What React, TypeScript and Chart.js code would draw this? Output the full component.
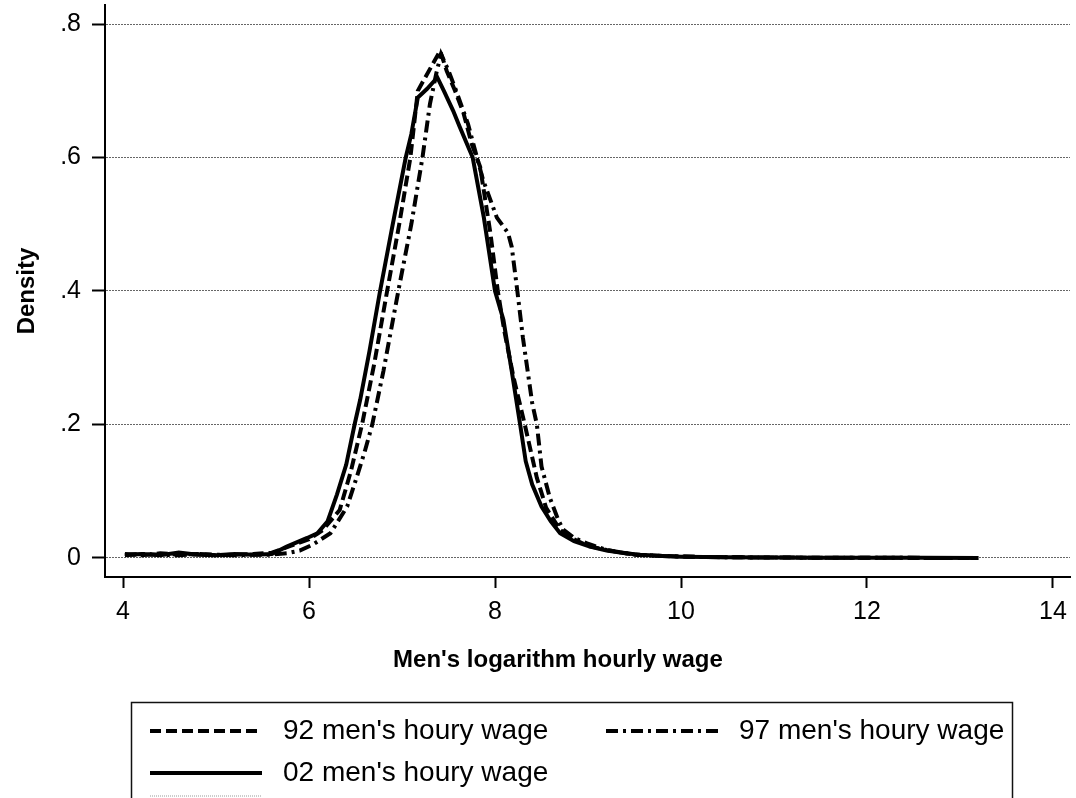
import React, { useEffect, useRef } from "react";
import { Chart, registerables } from "chart.js";
Chart.register(...registerables);

const FONT = 'Arial, "Liberation Sans", sans-serif';

const xTicks = [4, 6, 8, 10, 12, 14];
const yTicks = [0, 0.2, 0.4, 0.6, 0.8];
const xTitle = "Men's logarithm hourly wage";
const yTitle = "Density";
const seriesLabels = ["92 men's houry wage", "97 men's houry wage", "02 men's houry wage", ""];

const x92 = [4.02, 4.2, 4.4, 4.6, 4.8, 5.0, 5.2, 5.4, 5.6, 5.8, 6.0, 6.15, 6.33, 6.45, 6.57, 6.7, 6.84, 6.97, 7.09, 7.17, 7.25, 7.33, 7.41, 7.48, 7.57, 7.66, 7.75, 7.84, 7.95, 8.03, 8.1, 8.2, 8.32, 8.45, 8.55, 8.7, 8.85, 9.0, 9.2, 9.5, 9.8, 10.2, 10.8, 11.5, 12.2, 12.9];
const y92 = [0.006, 0.004, 0.007, 0.005, 0.006, 0.004, 0.005, 0.006, 0.008, 0.018, 0.028, 0.042, 0.072, 0.13, 0.2, 0.29, 0.4, 0.5, 0.6, 0.7, 0.72, 0.74, 0.76, 0.73, 0.7, 0.667, 0.62, 0.586, 0.487, 0.4, 0.34, 0.27, 0.2, 0.12, 0.075, 0.042, 0.028, 0.018, 0.012, 0.005, 0.003, 0.0015, 0.0008, 0.0004, 0.0002, 0.0001];

const x97 = [4.02, 4.2, 4.4, 4.6, 4.8, 5.0, 5.2, 5.4, 5.6, 5.76, 5.9, 6.04, 6.23, 6.41, 6.52, 6.6, 6.68, 6.8, 6.96, 7.1, 7.22, 7.3, 7.37, 7.42, 7.5, 7.59, 7.71, 7.87, 8.02, 8.14, 8.18, 8.24, 8.3, 8.4, 8.45, 8.5, 8.59, 8.68, 8.73, 8.85, 8.99, 9.2, 9.5, 9.8, 10.2, 10.8, 11.5, 12.2, 13.1];
const y97 = [0.004, 0.006, 0.005, 0.004, 0.006, 0.005, 0.004, 0.005, 0.005, 0.007, 0.011, 0.02, 0.037, 0.077, 0.124, 0.16, 0.2, 0.28, 0.4, 0.5, 0.6, 0.68, 0.727, 0.755, 0.73, 0.697, 0.65, 0.567, 0.51, 0.487, 0.466, 0.4, 0.33, 0.232, 0.2, 0.137, 0.09, 0.057, 0.043, 0.03, 0.022, 0.012, 0.005, 0.003, 0.0015, 0.0008, 0.0004, 0.0002, 0.0001];

const x02 = [4.02, 4.2, 4.4, 4.6, 4.8, 5.0, 5.2, 5.4, 5.6, 5.76, 5.98, 6.09, 6.2, 6.3, 6.4, 6.49, 6.55, 6.65, 6.76, 6.9, 7.04, 7.1, 7.17, 7.27, 7.38, 7.45, 7.55, 7.62, 7.76, 7.88, 8.0, 8.09, 8.18, 8.27, 8.33, 8.4, 8.5, 8.6, 8.7, 8.85, 9.02, 9.2, 9.4, 9.56, 9.8, 10.0, 10.5, 11.0, 11.5, 12.0, 12.6, 13.2];
const y02 = [0.005, 0.006, 0.004, 0.008, 0.005, 0.004, 0.006, 0.005, 0.006, 0.017, 0.03, 0.037, 0.055, 0.095, 0.14, 0.2, 0.237, 0.31, 0.397, 0.5, 0.6, 0.635, 0.69, 0.703, 0.72, 0.7, 0.67, 0.646, 0.6, 0.51, 0.4, 0.357, 0.28, 0.2, 0.145, 0.11, 0.077, 0.055, 0.037, 0.025, 0.017, 0.011, 0.007, 0.005, 0.003, 0.002, 0.001, 0.0006, 0.0004, 0.0003, 0.0002, 0.0001];

const toPts = (xs: number[], ys: number[]) => xs.map((x, i) => ({ x, y: ys[i] }));

const noScalePadding = (s: any) => {
  s.paddingTop = 0;
  s.paddingBottom = 0;
  s.paddingLeft = 0;
  s.paddingRight = 0;
};

export default function App() {
  const ref = useRef<HTMLCanvasElement>(null);

  useEffect(() => {
    if (!ref.current) return;

    const legendPlugin = {
      id: "boxLegend",
      afterDraw(chart: any) {
        const ctx = chart.ctx;
        ctx.save();
        // x-axis title
        ctx.fillStyle = "#000";
        ctx.font = `bold 24px ${FONT}`;
        ctx.textAlign = "center";
        ctx.textBaseline = "middle";
        ctx.fillText(xTitle, 558, 660);
        // legend box
        ctx.strokeStyle = "#111";
        ctx.lineWidth = 1.5;
        ctx.strokeRect(131.5, 702.5, 881, 140);
        const items = [
          { ds: 0, x: 150, y: 731 },
          { ds: 1, x: 606, y: 731 },
          { ds: 2, x: 150, y: 773 },
          { ds: 3, x: 150, y: 796 },
        ];
        items.forEach((it) => {
          const d = chart.data.datasets[it.ds];
          ctx.setLineDash(d.borderDash || []);
          ctx.strokeStyle = d.borderColor;
          ctx.lineWidth = d.borderWidth;
          ctx.beginPath();
          ctx.moveTo(it.x, it.y);
          ctx.lineTo(it.x + 112, it.y);
          ctx.stroke();
          ctx.setLineDash([]);
          if (d.label) {
            ctx.fillStyle = "#000";
            ctx.font = `28px ${FONT}`;
            ctx.textBaseline = "middle";
            ctx.textAlign = "left";
            ctx.fillText(d.label, it.x + 133, it.y);
          }
        });
        ctx.restore();
      },
    };

    const chart = new Chart(ref.current, {
      type: "line",
      data: {
        datasets: [
          {
            label: seriesLabels[0],
            data: toPts(x92, y92),
            borderColor: "#000",
            borderWidth: 4,
            borderDash: [11, 5],
            pointRadius: 0,
            tension: 0,
            order: 1,
          },
          {
            label: seriesLabels[1],
            data: toPts(x97, y97),
            borderColor: "#000",
            borderWidth: 4,
            borderDash: [12, 5, 3, 5],
            pointRadius: 0,
            tension: 0,
            order: 2,
          },
          {
            label: seriesLabels[2],
            data: toPts(x02, y02),
            borderColor: "#000",
            borderWidth: 4,
            pointRadius: 0,
            tension: 0,
            order: 0,
          },
          {
            label: seriesLabels[3],
            data: [],
            borderColor: "#999",
            borderWidth: 1,
            borderDash: [1, 1],
            pointRadius: 0,
            order: 3,
          },
        ],
      },
      options: {
        responsive: false,
        animation: false,
        devicePixelRatio: 1,
        layout: { padding: { left: 0, right: 6, top: 5, bottom: 124 } },
        plugins: { legend: { display: false }, tooltip: { enabled: false } },
        scales: {
          x: {
            type: "linear",
            min: 3.806,
            max: 14.183,
            afterBuildTicks: (s: any) => {
              s.ticks = xTicks.map((v) => ({ value: v }));
            },
            afterFit: (s: any) => {
              s.height = 97;
              noScalePadding(s);
            },
            ticks: {
              color: "#000",
              font: { family: FONT, size: 25 },
              padding: 9,
              maxRotation: 0,
              autoSkip: false,
              callback: (v: any) => String(v),
            },
            grid: {
              drawOnChartArea: false,
              drawTicks: true,
              tickLength: 11,
              tickColor: "#000",
              tickWidth: 2,
            },
            border: { display: true, color: "#000", width: 2 },
            title: { display: false, text: xTitle },
          },
          y: {
            type: "linear",
            min: -0.0285,
            max: 0.8285,
            afterBuildTicks: (s: any) => {
              s.ticks = yTicks.map((v) => ({ value: v }));
            },
            afterFit: (s: any) => {
              s.width = 105;
              noScalePadding(s);
            },
            ticks: {
              color: "#000",
              font: { family: FONT, size: 25 },
              padding: 11,
              autoSkip: false,
              callback: (v: any) => (v === 0 ? "0" : "." + Math.round(v * 10)),
            },
            grid: {
              color: "#666",
              lineWidth: 1,
              drawTicks: true,
              tickLength: 13,
              tickColor: "#000",
              tickWidth: 2,
              tickBorderDash: [],
            },
            border: { display: true, color: "#000", width: 2, dash: [2, 1] },
            title: {
              display: true,
              text: yTitle,
              color: "#000",
              font: { family: FONT, size: 24, weight: "bold" },
              padding: { top: 13, bottom: 0 },
            },
          },
        },
      },
      plugins: [legendPlugin],
    } as any);

    return () => chart.destroy();
  }, []);

  return (
    <div style={{ position: "fixed", left: 0, top: 0, width: 1076, height: 798, background: "#fff" }}>
      <canvas ref={ref} width={1076} height={798} style={{ display: "block" }} />
    </div>
  );
}
